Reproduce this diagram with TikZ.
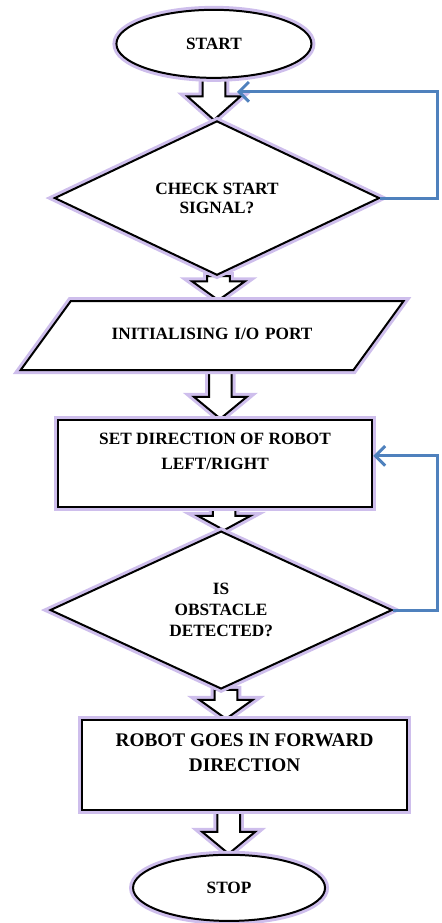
\documentclass[tikz,border=0pt]{standalone}
\usepackage{fontspec}
\setmainfont{Liberation Serif}
\usetikzlibrary{shapes.geometric, arrows.meta, calc, backgrounds}

\definecolor{glow}{RGB}{206,190,236}
\definecolor{loopblue}{RGB}{79,129,189}

% hollow down arrow between two boxes, #4 = x of its axis (cm), #1 = head length (cm)
\newcommand{\blockarrow}[4][0.55]{%
  \draw[blockarrow] let \p1=(#2.south), \p2=(#3.north) in
    ({#4cm-0.3cm},\y1) -- ({#4cm-0.3cm},{\y2+#1cm}) -- ({#4cm-0.7cm},{\y2+#1cm})
    -- (#4cm,\y2) -- ({#4cm+0.7cm},{\y2+#1cm}) -- ({#4cm+0.3cm},{\y2+#1cm})
    -- ({#4cm+0.3cm},\y1) -- cycle;}

\begin{document}
\begin{tikzpicture}[
    every node/.style={align=center, font=\bfseries\fontsize{13}{14.5}\selectfont},
    halo/.style={preaction={draw=glow, line width=6pt}},
    terminal/.style={ellipse, draw, line width=1.5pt, fill=white, halo, inner sep=0pt},
    decision/.style={diamond, draw, line width=1.5pt, fill=white, halo, inner sep=0pt},
    io/.style={trapezium, trapezium left angle=54, trapezium right angle=126, draw, line width=1.5pt, fill=white, halo,
        text width=5.4cm, text height=9pt, text depth=3pt, inner xsep=1.04cm, inner ysep=0.70cm},
    process/.style={rectangle, draw, line width=1.8pt, fill=white, halo, font=\bfseries\fontsize{13}{18.75}\selectfont},
    blockarrow/.style={draw, line width=1.5pt, fill=white, halo, line join=miter},
    feedback/.style={draw=loopblue, line width=2.2pt, -{Straight Barb[length=2.6mm, width=5.2mm]}}
]
\useasboundingbox (0,0) rectangle (11.69,-24.42);

% --- Flow boxes, top to bottom
\node[terminal, minimum width=5.16cm, minimum height=1.80cm] (start) at (5.66,-1.16) {START};
\node[decision, minimum width=8.60cm, minimum height=3.68cm] (check) at (5.74,-5.24) {CHECK START\\SIGNAL?};
\node[io] (init) at (5.61,-8.88) {INITIALISING I/O PORT};
\node[process, minimum width=8.31cm, minimum height=2.30cm] (setdir) at (5.69,-12.26) {SET DIRECTION OF ROBOT\\LEFT/RIGHT\\\mbox{}};
\node[decision, minimum width=9.05cm, minimum height=3.84cm, font=\bfseries\fontsize{13}{16}\selectfont] (obstacle) at (5.85,-16.14) {IS\\OBSTACLE\\DETECTED?};
\node[process, minimum width=8.60cm, minimum height=2.38cm, font=\bfseries\fontsize{14.5}{18.75}\selectfont] (forward) at (6.47,-20.24) {ROBOT GOES IN FORWARD\\DIRECTION\\\mbox{}};
\node[terminal, minimum width=5.08cm, minimum height=1.75cm] (stop) at (6.06,-23.49) {STOP};

% --- Hollow arrows behind the boxes
\begin{pgfonlayer}{background}
\blockarrow[0.62]{start}{check}{5.66}
\blockarrow[0.5]{check}{init}{5.78}
\blockarrow[0.58]{init}{setdir}{5.83}
\blockarrow[0.38]{setdir}{obstacle}{5.93}
\blockarrow[0.5]{obstacle}{forward}{5.98}
\blockarrow[0.58]{forward}{stop}{6.05}
\end{pgfonlayer}

% --- Feedback loops on the right
\coordinate (rail) at (11.58,0);
\coordinate (loop1) at (6.27,-2.43);
\draw[feedback] (check.east) -- (check.east -| rail) |- (loop1);
\draw[feedback] (obstacle.east) -- (obstacle.east -| rail) |- ([yshift=0.2cm]setdir.east);

\end{tikzpicture}
\end{document}
